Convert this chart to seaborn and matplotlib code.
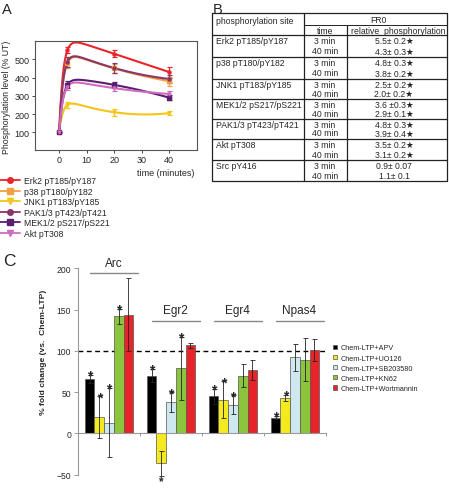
import numpy as np
import pandas as pd
import matplotlib
matplotlib.use('Agg')
import matplotlib.pyplot as plt
import seaborn as sns
from matplotlib.lines import Line2D

sns.set_theme(style='white')
plt.rcParams['font.family'] = ['Liberation Sans', 'DejaVu Sans']

# ---------------- Panel A data ----------------
times = [0, 3, 20, 40]
a_labels = ['Erk2 pT185/pY187', 'p38 pT180/pY182', 'JNK1 pT183/pY185',
            'PAK1/3 pT423/pT421', 'MEK1/2 pS217/pS221', 'Akt pT308']
erk2 = [100, 550, 530, 430]
p38 = [100, 480, 450, 380]
jnk1 = [100, 250, 210, 205]
pak13 = [100, 485, 452, 392]
mek12 = [100, 360, 360, 290]
akt = [100, 350, 342, 310]
erk2_err = [0, 18, 18, 30]
p38_err = [0, 30, 25, 25]
jnk1_err = [0, 15, 20, 12]
pak13_err = [0, 30, 25, 20]
mek12_err = [0, 20, 18, 15]
akt_err = [0, 18, 15, 18]
a_colors = ['#e8262a', '#f2a040', '#f5c518', '#8a3468', '#5a1e6e', '#d06cc0']
a_markers = ['o', 's', 'v', 'o', 's', 'v']

# ---------------- Panel B data ----------------
b_sites = ['Erk2 pT185/pY187', 'p38 pT180/pY182', 'JNK1 pT183/pY185',
           'MEK1/2 pS217/pS221', 'PAK1/3 pT423/pT421', 'Akt pT308', 'Src pY416']
b_3min = ['5.5\u00b1 0.2\u2605', '4.8\u00b1 0.3\u2605', '2.5\u00b1 0.2\u2605', '3.6 \u00b10.3\u2605',
          '4.8\u00b1 0.3\u2605', '3.5\u00b1 0.2\u2605', '0.9\u00b1 0.07']
b_40min = ['4.3\u00b1 0.3\u2605', '3.8\u00b1 0.2\u2605', '2.0\u00b1 0.2\u2605', '2.9\u00b1 0.1\u2605',
           '3.9\u00b1 0.4\u2605', '3.1\u00b1 0.2\u2605', '1.1\u00b1 0.1']

# ---------------- Panel C data ----------------
genes = ['Arc', 'Egr2', 'Egr4', 'Npas4']
treatments = ['Chem-LTP+APV', 'Chem-LTP+UO126', 'Chem-LTP+SB203580',
              'Chem-LTP+KN62', 'Chem-LTP+Wortmannin']
apv = [66, 70, 45, 19]
uo126 = [20, -36, 41, 43]
sb203580 = [13, 38, 35, 92]
kn62 = [142, 79, 70, 89]
wortmannin = [144, 107, 77, 101]
apv_err = [5, 8, 9, 2]
uo126_err = [25, 15, 22, 4]
sb203580_err = [42, 12, 11, 16]
kn62_err = [9, 38, 14, 26]
wortmannin_err = [44, 3, 12, 13]
apv_sig = [1, 1, 1, 1]
uo126_sig = [1, 1, 1, 1]
sb203580_sig = [1, 1, 1, 0]
kn62_sig = [1, 1, 0, 0]
wortmannin_sig = [0, 0, 0, 0]
c_colors = ['#000000', '#f4ea1e', '#cfe8f0', '#8cc43c', '#e8242a']

W, H = 449, 489
fig = plt.figure(figsize=(W / 100, H / 100), dpi=100)
fig.patch.set_facecolor('white')

def fx(px):
    return px / W

def fy(py):
    return 1 - py / H

# overlay axes in pixel coordinates for text/table
ov = fig.add_axes([0, 0, 1, 1])
ov.set_xlim(0, W)
ov.set_ylim(H, 0)
ov.axis('off')
ov.set_zorder(5)

# ---------------- Panel A ----------------
axA = fig.add_axes([fx(35), fy(150.7), fx(196.7) - fx(35), fy(42) - fy(150.7)])
series = [erk2, p38, jnk1, pak13, mek12, akt]
errs = [erk2_err, p38_err, jnk1_err, pak13_err, mek12_err, akt_err]
tt = np.linspace(0, 40, 300)
k = 0.7
for vals, ee, col, mk in zip(series, errs, a_colors, a_markers):
    t = np.array(times[1:], float)
    y = np.array(vals[1:], float) - vals[0]
    M = np.column_stack([1 - np.exp(-k * t), t, t ** 2])
    coef = np.linalg.solve(M, y)
    curve = vals[0] + coef[0] * (1 - np.exp(-k * tt)) + coef[1] * tt + coef[2] * tt ** 2
    dfc = pd.DataFrame({'t': tt, 'y': curve})
    sns.lineplot(data=dfc, x='t', y='y', color=col, lw=1.5, ax=axA)
    axA.errorbar(times, vals, yerr=ee, fmt=mk, color=col, ms=2.2, elinewidth=0.9,
                 capsize=1.8, capthick=0.9)
axA.set_xlim(-8.8, 50)
axA.set_ylim(5, 600)
axA.set_xticks([0, 10, 20, 30, 40])
axA.set_yticks([100, 200, 300, 400, 500])
axA.set_xlabel('')
axA.set_ylabel('')
axA.tick_params(axis='both', labelsize=6.5, length=2.5, width=0.7, color='#444',
                direction='out', pad=1.5, left=True, bottom=True)
for s in axA.spines.values():
    s.set_color('#555555')
    s.set_linewidth(0.8)
ov.text(6.7, 97, 'Phosphorylation level (% UT)', rotation=90, ha='center', va='center', fontsize=6.3)
ov.text(194, 173.5, 'time (minutes)', ha='right', va='center', fontsize=6.5)

handlesA = [Line2D([], [], color=c, marker=m, ms=4, lw=1.3) for c, m in zip(a_colors, a_markers)]
axA.legend(handlesA, a_labels, loc='upper left', bbox_to_anchor=(fx(0), fy(177)),
           bbox_transform=fig.transFigure, frameon=False, fontsize=6.2,
           handlelength=2.3, handletextpad=0.45, labelspacing=0.18,
           borderpad=0, borderaxespad=0, numpoints=1)

# panel letters
ov.text(2, 13.5, 'A', fontsize=10.5, ha='left', va='baseline')
ov.text(213, 13.5, 'B', fontsize=10.5, ha='left', va='baseline')
ov.text(3, 266.5, 'C', fontsize=12.5, ha='left', va='baseline')

# ---------------- Panel B (table) ----------------
tl, tr, ttop, tbot = 212, 447, 14, 182
c1, c2 = 304, 346.7
rows_y = [36, 57.5, 79.5, 100, 120, 139.5, 161, 182]
lw_t = 0.9
ov.plot([tl, tr, tr, tl, tl], [ttop, ttop, tbot, tbot, ttop], color='#222', lw=lw_t)
ov.plot([c1, c1], [ttop, tbot], color='#222', lw=lw_t)
ov.plot([c2, c2], [26, tbot], color='#222', lw=lw_t)
ov.plot([c1, tr], [26, 26], color='#222', lw=0.7)
for yy in rows_y[:-1]:
    ov.plot([tl, tr], [yy, yy], color='#222', lw=lw_t)
fsT = 6.2
ov.text(216, 22, 'phosphorylation site', fontsize=fsT, va='center', ha='left')
ov.text(378, 20.5, 'FR0', fontsize=fsT, va='center', ha='center')
ov.text(325, 31.5, 'time', fontsize=fsT, va='center', ha='center')
ov.text(351, 31.5, 'relative  phosphorylation', fontsize=fsT, va='center', ha='left')
for i, site in enumerate(b_sites):
    top, bot = rows_y[i], rows_y[i + 1]
    ov.text(216, top + 5.5, site, fontsize=fsT, va='center', ha='left')
    ov.text(325, top + 5.5, '3 min', fontsize=fsT, va='center', ha='center')
    ov.text(325, bot - 5.5, '40 min', fontsize=fsT, va='center', ha='center')
    ov.text(394, top + 5.5, b_3min[i], fontsize=fsT, va='center', ha='center')
    ov.text(394, bot - 5.5, b_40min[i], fontsize=fsT, va='center', ha='center')

# ---------------- Panel C ----------------
axC = fig.add_axes([fx(78), fy(475.7), fx(326) - fx(78), fy(269.3) - fy(475.7)])
vals_c = [apv, uo126, sb203580, kn62, wortmannin]
errs_c = [apv_err, uo126_err, sb203580_err, kn62_err, wortmannin_err]
sigs_c = [apv_sig, uo126_sig, sb203580_sig, kn62_sig, wortmannin_sig]
recs = []
for tr_name, v, e, s in zip(treatments, vals_c, errs_c, sigs_c):
    for g, vv, ee, ss in zip(genes, v, e, s):
        recs.append({'gene': g, 'treatment': tr_name, 'value': vv, 'err': ee, 'sig': ss})
dfC = pd.DataFrame(recs)
axC.axhline(100, color='black', lw=1.0, ls=(0, (3.5, 2.5)), zorder=0.5)
sns.barplot(data=dfC, x='gene', y='value', hue='treatment', order=genes, hue_order=treatments,
            palette=c_colors, saturation=1, errorbar=None, width=0.78,
            edgecolor='#555555', linewidth=0.5, ax=axC, zorder=2)
for p in axC.patches:
    w = p.get_width()
    if w == 0 or np.isnan(p.get_height()):
        continue
    x = p.get_x() + w / 2
    gi = int(round(x))
    sub = dfC[dfC['gene'] == genes[gi]]
    row = sub.iloc[np.argmin(np.abs(sub['value'].values - p.get_height()))]
    val, err, sig = row['value'], row['err'], row['sig']
    axC.errorbar([x], [val], yerr=[err], fmt='none', ecolor='#222222', elinewidth=0.6,
                 capsize=1.8, capthick=0.6, zorder=3, clip_on=False)
    if sig:
        if val >= 0:
            axC.annotate('*', xy=(x, val + err), xytext=(0, -3.5), textcoords='offset points',
                         ha='center', va='baseline', fontsize=10, fontweight='bold',
                         annotation_clip=False, zorder=4)
        else:
            axC.annotate('*', xy=(x, 0), xycoords=('data', 'figure fraction'),
                         xytext=(0, 0.3), textcoords='offset points',
                         ha='center', va='bottom', fontsize=8.5, fontweight='bold',
                         annotation_clip=False, zorder=4)

axC.set_xlim(-0.5, 3.5)
axC.set_ylim(-50, 200)
axC.set_yticks([-50, 0, 50, 100, 150, 200])
axC.set_xticks([-0.5, 0.5, 1.5, 2.5, 3.5])
axC.set_xticklabels([])
axC.set_xlabel('')
axC.set_ylabel('')
axC.spines['top'].set_visible(False)
axC.spines['right'].set_visible(False)
axC.spines['bottom'].set_position(('data', 0))
for s in ['left', 'bottom']:
    axC.spines[s].set_color('#999999')
    axC.spines[s].set_linewidth(0.8)
axC.tick_params(axis='y', labelsize=6.2, length=3, width=0.7, color='#999999',
                direction='out', pad=2, left=True)
axC.tick_params(axis='x', length=2, width=0.7, color='#999999', direction='out', bottom=True)
axC.set_facecolor('none')

label_y = [207, 149, 149, 149]
line_y = [194, 136, 136, 136]
for i, g in enumerate(genes):
    axC.text(i + 0.07, label_y[i], g, ha='center', va='center', fontsize=8.5, clip_on=False)
    axC.plot([i - 0.3, i + 0.46], [line_y[i], line_y[i]], color='#888888', lw=1.0, clip_on=False)

ov.text(44, 352, '% fold change (vs.  Chem-LTP)', rotation=90, ha='center', va='center',
        fontsize=6.1, fontweight='bold')

hC, lC = axC.get_legend_handles_labels()
axC.legend(hC, lC, loc='upper left', bbox_to_anchor=(fx(332.5), fy(345.5)),
           bbox_transform=fig.transFigure, frameon=False, fontsize=5.2,
           handlelength=0.65, handleheight=0.65, handletextpad=0.5, labelspacing=0.42,
           borderpad=0, borderaxespad=0)

fig.savefig('out.png', dpi=100)
